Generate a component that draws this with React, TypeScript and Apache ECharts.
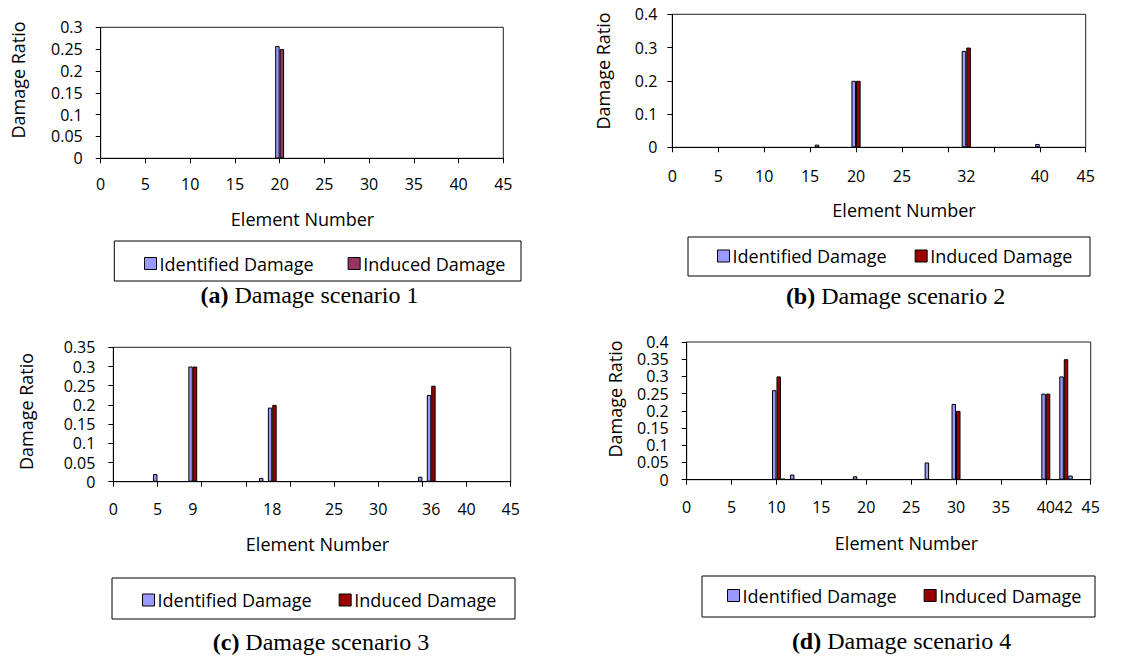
import React, { useEffect, useRef } from "react";
import * as echarts from "echarts";

// Element numbers on the x axis (category positions 0..45)
const elementNumbers: string[] = Array.from({ length: 46 }, (_, i) => String(i));

// Visible tick labels per scenario
const labelsA = [0, 5, 10, 15, 20, 25, 30, 35, 40, 45];
const labelsB = [0, 5, 10, 15, 20, 25, 32, 40, 45];
const labelsC = [0, 5, 9, 18, 25, 30, 36, 40, 45];
const labelsD = [0, 5, 10, 15, 20, 25, 30, 35, 40, 42, 45];

// [element, damage ratio]
const identifiedA: [number, number][] = [[20, 0.257]];
const inducedA: [number, number][] = [[20, 0.25]];

const identifiedB: [number, number][] = [[16, 0.008], [20, 0.2], [32, 0.29], [40, 0.01]];
const inducedB: [number, number][] = [[20, 0.2], [32, 0.3]];

const identifiedC: [number, number][] = [[5, 0.02], [9, 0.3], [17, 0.01], [18, 0.193], [35, 0.013], [36, 0.226]];
const inducedC: [number, number][] = [[9, 0.3], [18, 0.2], [36, 0.25]];

const identifiedD: [number, number][] = [[10, 0.26], [11, 0.003], [12, 0.015], [19, 0.01], [27, 0.05], [30, 0.22], [40, 0.25], [42, 0.3], [43, 0.012]];
const inducedD: [number, number][] = [[10, 0.3], [30, 0.2], [40, 0.25], [42, 0.35]];

const yMaxes = [0.3, 0.4, 0.35, 0.4];
const yIntervals = [0.05, 0.1, 0.05, 0.05];

const captionLetters = ["(a)", "(b)", "(c)", "(d)"];
const captionTexts = ["Damage scenario 1", "Damage scenario 2", "Damage scenario 3", "Damage scenario 4"];

const IDENT_COLOR = "#9999FF";
const INDUCED_COLORS = ["#993366", "#990000", "#990000", "#990000"];

const SANS = "'Open Sans', sans-serif";
const SERIF = "'Liberation Serif', 'Times New Roman', serif";

function toFull(pairs: [number, number][]): (number | null)[] {
  const arr: (number | null)[] = elementNumbers.map(() => null);
  pairs.forEach(([e, v]) => {
    arr[e] = v;
  });
  return arr;
}

const panels = [
  {
    ident: identifiedA, induced: inducedA, labels: labelsA,
    grid: { left: 100.7, top: 27.3, width: 402.6, height: 131 },
    yMargin: 18, xMargin: 18,
    xTitle: [302.5, 219], yTitle: [18, 80], caption: [309.5, 295],
    legendBox: [114.3, 241, 406.7, 40], legendPos: [144, 254.5], itemGap: 34,
  },
  {
    ident: identifiedB, induced: inducedB, labels: labelsB,
    grid: { left: 672.3, top: 14.3, width: 413.4, height: 133 },
    yMargin: 15, xMargin: 21,
    xTitle: [904, 210], yTitle: [603, 71], caption: [895.5, 296],
    legendBox: [688, 237, 402, 39], legendPos: [717, 247], itemGap: 28,
  },
  {
    ident: identifiedC, induced: inducedC, labels: labelsC,
    grid: { left: 113.3, top: 347.3, width: 397.4, height: 134.4 },
    yMargin: 18, xMargin: 19,
    xTitle: [317.5, 544], yTitle: [26, 411.5], caption: [321, 642],
    legendBox: [112, 578, 403, 41], legendPos: [142, 591], itemGap: 27,
  },
  {
    ident: identifiedD, induced: inducedD, labels: labelsD,
    grid: { left: 686.7, top: 342, width: 404, height: 137.7 },
    yMargin: 18, xMargin: 19,
    xTitle: [906.5, 543], yTitle: [615, 399], caption: [901.5, 641],
    legendBox: [702, 576, 393, 41], legendPos: [727, 586.5], itemGap: 27,
  },
];

export default function App() {
  const ref = useRef<HTMLDivElement>(null);

  useEffect(() => {
    if (!ref.current) return;
    const chart = echarts.init(ref.current, undefined, { renderer: "svg" });

    const grids: any[] = [];
    const xAxes: any[] = [];
    const yAxes: any[] = [];
    const series: any[] = [];
    const legends: any[] = [];
    const graphics: any[] = [];

    panels.forEach((p, i) => {
      grids.push({
        ...p.grid,
        show: true,
        borderColor: "#222",
        borderWidth: 1,
        backgroundColor: "#fff",
        containLabel: false,
      });
      const visible = new Set(p.labels);
      xAxes.push({
        type: "category",
        gridIndex: i,
        data: elementNumbers,
        boundaryGap: false,
        axisLine: { show: true, lineStyle: { color: "#000", width: 1 } },
        axisTick: { show: true, interval: 4, length: 5, lineStyle: { color: "#000" } },
        axisLabel: {
          interval: (idx: number) => visible.has(idx),
          margin: p.xMargin,
          color: "#000",
          fontFamily: SANS,
          fontSize: 16,
        },
        splitLine: { show: false },
      });
      yAxes.push({
        type: "value",
        gridIndex: i,
        min: 0,
        max: yMaxes[i],
        interval: yIntervals[i],
        axisLine: { show: true, lineStyle: { color: "#000", width: 1 } },
        axisTick: { show: true, length: 5, lineStyle: { color: "#000" } },
        axisLabel: {
          margin: p.yMargin,
          color: "#000",
          fontFamily: SANS,
          fontSize: 16,
          lineHeight: 14,
        },
        splitLine: { show: false },
      });
      series.push({
        type: "bar",
        name: "Identified Damage",
        xAxisIndex: i,
        yAxisIndex: i,
        data: toFull(p.ident),
        barGap: "0%",
        barCategoryGap: "0%",
        itemStyle: { color: IDENT_COLOR, borderColor: "#000", borderWidth: 1 },
      });
      series.push({
        type: "bar",
        name: "Induced Damage",
        xAxisIndex: i,
        yAxisIndex: i,
        data: toFull(p.induced),
        barGap: "0%",
        barCategoryGap: "0%",
        itemStyle: { color: INDUCED_COLORS[i], borderColor: "#000", borderWidth: 1 },
      });

      legends.push({
        left: p.legendPos[0],
        top: p.legendPos[1],
        orient: "horizontal",
        padding: 0,
        itemGap: p.itemGap,
        itemWidth: 12,
        itemHeight: 12,
        selectedMode: false,
        textStyle: { fontFamily: SANS, fontSize: 18, color: "#000", padding: [0, 0, 0, -2] },
        data: [
          { name: "Identified Damage", icon: "rect", itemStyle: { color: IDENT_COLOR, borderColor: "#000", borderWidth: 1 } },
          { name: "Induced Damage", icon: "rect", itemStyle: { color: INDUCED_COLORS[i], borderColor: "#000", borderWidth: 1 } },
        ],
      });

      const [bx, by, bw, bh] = p.legendBox;
      graphics.push({
        type: "rect",
        shape: { x: bx, y: by, width: bw, height: bh },
        style: { fill: "none", stroke: "#000", lineWidth: 1 },
        silent: true,
        z: 0,
      });
      graphics.push({
        type: "text",
        x: p.xTitle[0],
        y: p.xTitle[1],
        style: {
          text: "Element Number",
          fontFamily: SANS,
          fontSize: 18,
          fill: "#000",
          align: "center",
          verticalAlign: "middle",
        },
      });
      graphics.push({
        type: "text",
        x: p.yTitle[0],
        y: p.yTitle[1],
        rotation: Math.PI / 2,
        style: {
          text: "Damage Ratio",
          fontFamily: SANS,
          fontSize: 18,
          fill: "#000",
          align: "center",
          verticalAlign: "middle",
        },
      });
      graphics.push({
        type: "text",
        x: p.caption[0],
        y: p.caption[1],
        style: {
          text: "{b|" + captionLetters[i] + "} " + captionTexts[i],
          fontFamily: SERIF,
          fontSize: 24,
          fill: "#000",
          align: "center",
          verticalAlign: "middle",
          rich: {
            b: { fontFamily: SERIF, fontSize: 24, fontWeight: "bold", fill: "#000" },
          },
        },
      });
    });

    chart.setOption({
      animation: false,
      backgroundColor: "#fff",
      grid: grids,
      xAxis: xAxes,
      yAxis: yAxes,
      series,
      legend: legends,
      graphic: graphics,
    });

    return () => {
      chart.dispose();
    };
  }, []);

  return (
    <div
      ref={ref}
      style={{ position: "fixed", left: 0, top: 0, width: 1145, height: 656 }}
    />
  );
}
